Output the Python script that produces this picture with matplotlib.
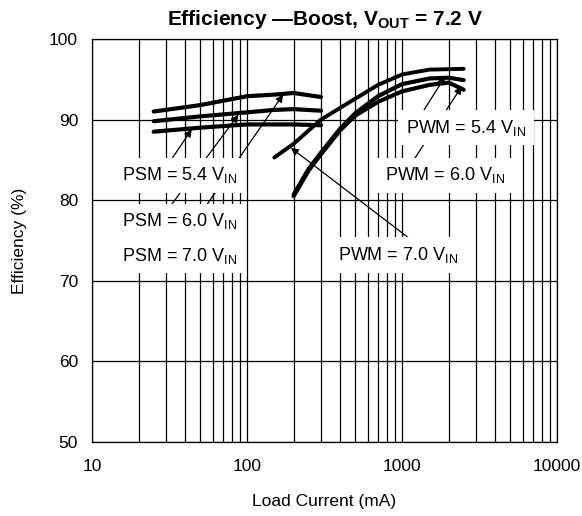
import matplotlib
matplotlib.use("Agg")
from matplotlib import pyplot as plt
from matplotlib.ticker import LogLocator, NullFormatter, FixedLocator

plt.rcParams['font.family'] = ['Liberation Sans', 'DejaVu Sans']
plt.rcParams['mathtext.fontset'] = 'custom'
plt.rcParams['mathtext.rm'] = 'Liberation Sans'
plt.rcParams['mathtext.bf'] = 'Liberation Sans:bold'

# PSM curves (load current mA, efficiency %)
psm_x = [25, 50, 100, 150, 200, 300]
psm_70 = [91.0, 91.8, 92.9, 93.1, 93.3, 92.8]
psm_60 = [89.8, 90.4, 90.9, 91.2, 91.3, 91.1]
psm_54 = [88.5, 89.0, 89.4, 89.4, 89.4, 89.3]

# PWM curves
pwm70_x = [150, 200, 300, 500, 700, 1000, 1500, 2500]
pwm_70 = [85.3, 87.0, 90.0, 92.6, 94.3, 95.6, 96.2, 96.3]
pwm_x = [200, 250, 300, 400, 500, 700, 1000, 1500, 2000, 2500]
pwm_54 = [80.7, 83.9, 85.9, 88.9, 90.8, 92.9, 94.4, 95.1, 95.2, 94.9]
pwm_60 = [80.5, 83.7, 85.7, 88.7, 90.5, 92.2, 93.5, 94.3, 94.6, 93.7]

labels = ['PSM = 5.4 V$_{\\mathrm{IN}}$', 'PSM = 6.0 V$_{\\mathrm{IN}}$',
          'PSM = 7.0 V$_{\\mathrm{IN}}$', 'PWM = 5.4 V$_{\\mathrm{IN}}$',
          'PWM = 6.0 V$_{\\mathrm{IN}}$', 'PWM = 7.0 V$_{\\mathrm{IN}}$']
label_pos = [(37, 83.1), (37, 77.4), (37, 73.1), (2590, 89.0), (1890, 83.1), (940, 73.2)]
arrow_from = [(27.8, 83.1), (27.1, 77.4), (32.6, 73.1), (1175, 89.0), (1026, 83.1), (1538, 73.2)]
arrow_to = [(44, 88.8), (88, 90.6), (171, 93.1), (1892, 95.3), (2427, 94.1), (192, 86.5)]

fig = plt.figure(figsize=(5.82, 5.16), dpi=100)
ax = fig.add_axes([92/582, 1-442/516, 465/582, 403/516])

ax.plot(psm_x, psm_70, color='black', lw=3.0, solid_capstyle='round', zorder=3)
ax.plot(psm_x, psm_60, color='black', lw=3.0, solid_capstyle='round', zorder=3)
ax.plot(psm_x, psm_54, color='black', lw=3.0, solid_capstyle='round', zorder=3)
ax.plot(pwm70_x, pwm_70, color='black', lw=2.8, solid_capstyle='round', zorder=3)
ax.plot(pwm_x, pwm_54, color='black', lw=3.0, solid_capstyle='round', zorder=3)
ax.plot(pwm_x, pwm_60, color='black', lw=3.0, solid_capstyle='round', zorder=3)

ax.set_xscale('log')
ax.set_xlim(10, 10000)
ax.set_ylim(50, 100)
ax.xaxis.set_major_locator(FixedLocator([10, 100, 1000, 10000]))
ax.xaxis.set_minor_locator(LogLocator(base=10, subs=range(2, 10)))
ax.xaxis.set_minor_formatter(NullFormatter())
ax.set_xticklabels(['10', '100', '1000', '10000'])
ax.set_yticks([50, 60, 70, 80, 90, 100])
ax.grid(True, which='both', axis='x', color='black', lw=0.9)
ax.grid(True, which='major', axis='y', color='black', lw=0.9)
ax.tick_params(which='both', length=0, labelsize=12.5)
ax.tick_params(axis='x', pad=12)
ax.tick_params(axis='y', pad=10)
for s in ax.spines.values():
    s.set_linewidth(0.9)

for p0, p1 in zip(arrow_from, arrow_to):
    ax.annotate('', xy=p1, xytext=p0,
                arrowprops=dict(arrowstyle='-|>', color='black', lw=0.9,
                                mutation_scale=11, shrinkA=0, shrinkB=0),
                zorder=4)
for t, p in zip(labels, label_pos):
    ax.text(p[0], p[1], t, ha='center', va='center', fontsize=13, zorder=5,
            bbox=dict(boxstyle='square,pad=0.42', fc='white', ec='none'))

ax.set_title('Efficiency \u2014Boost, V$_{\\mathbf{OUT}}$ = 7.2 V', fontsize=15,
             fontweight='bold', pad=10)
ax.set_xlabel('Load Current (mA)', fontsize=12.5)
ax.set_ylabel('Efficiency (%)', fontsize=12.5)
ax.xaxis.set_label_coords(0.5, -0.13)
ax.yaxis.set_label_coords(-0.14, 0.5)

fig.savefig('out.png', dpi=100)
